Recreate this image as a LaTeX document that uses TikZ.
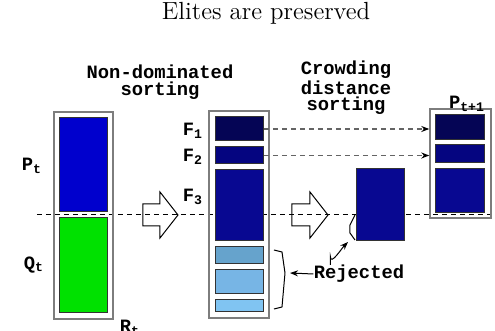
\documentclass[tikz,border=0pt]{standalone}
\usepackage{fontspec}
\usetikzlibrary{arrows.meta}
\newfontfamily\labfont{Liberation Mono}
\newcommand{\lab}[1]{{\labfont\bfseries #1}}
\definecolor{popblue}{RGB}{0,0,205}
\definecolor{popgreen}{RGB}{0,225,0}
\definecolor{frontA}{RGB}{5,5,85}
\definecolor{frontB}{RGB}{5,5,128}
\definecolor{frontC}{RGB}{8,8,145}
\definecolor{rejA}{RGB}{102,163,204}
\definecolor{rejB}{RGB}{119,181,229}
\definecolor{rejC}{RGB}{128,196,242}
\definecolor{boxgray}{RGB}{125,125,125}

\begin{document}
\begin{tikzpicture}[x=0.5pt, y=-0.5pt,
    outer/.style={draw=boxgray, line width=0.7pt, inner sep=0pt},
    front/.style={draw=black!80, line width=0.5pt, inner sep=0pt, minimum width=24pt},
    txt/.style={font=\fontsize{9.4}{8.3}\selectfont, align=center, inner sep=0pt},
    cutline/.style={dashed, dash pattern=on 2.5pt off 2pt, line width=0.5pt},
    copyarrow/.style={boxgray!80!black, dash pattern=on 2.5pt off 2pt, line width=0.6pt,
        -{Stealth[length=4pt, width=3pt, black]}},
    hollow/.style={draw=black, line width=0.5pt, line join=miter},
    reject/.style={line width=0.5pt, -{Stealth[length=4pt, width=3pt]}}]
    \useasboundingbox (0,0) rectangle (495,331);

    % the cut between kept and rejected members
    \coordinate (cutA) at (37,215);
    \coordinate (cutB) at (495,215);
    \draw[cutline] (cutA) -- (cutB);

    \node[font=\fontsize{12.4}{14}\selectfont] (title) at (266,13) {Elites are preserved};
    \node[txt] (nds) at (160,82) {\lab{Non-dominated}\\\lab{sorting}};
    \node[txt] (cds) at (346,88) {\lab{Crowding}\\\lab{distance}\\\lab{sorting}};

    % combined population R_t
    \node[outer, minimum width=29.5pt, minimum height=103.5pt] (rt) at (83.5,215.5) {};
    \node[front, fill=popblue, minimum height=47pt] (pt) at (84,165) {};
    \node[front, fill=popgreen, minimum height=47.5pt] (qt) at (84,265.5) {};
    \node[txt] (ptlab) at (32,166) {\lab{P\textsubscript{t}}};
    \node[txt] (qtlab) at (34,265) {\lab{Q\textsubscript{t}}};
    \node[txt] (rtlab) at (130,328) {\lab{R\textsubscript{t}}};

    % sorted fronts
    \node[outer, minimum width=30pt, minimum height=103.5pt] (mid) at (239,214.5) {};
    \node[front, fill=frontA, minimum height=12pt] (f1) at (239.5,129) {};
    \node[front, fill=frontB, minimum height=8.5pt] (f2) at (239.5,155.5) {};
    \node[front, fill=frontC, minimum height=35.5pt] (f3) at (239.5,205.5) {};
    \node[front, fill=rejA, minimum height=8.5pt] (r1) at (239.5,255.5) {};
    \node[front, fill=rejB, minimum height=12pt] (r2) at (239.5,282) {};
    \node[front, fill=rejC, minimum height=6pt] (r3) at (239.5,306) {};
    \node[txt] (f1lab) at (193,131) {\lab{F\textsubscript{1}}};
    \node[txt] (f2lab) at (193,157) {\lab{F\textsubscript{2}}};
    \node[txt] (f3lab) at (193,197) {\lab{F\textsubscript{3}}};

    % front 3 after crowding distance sorting
    \node[front, fill=frontC, minimum height=36pt] (f3cut) at (381,205) {};

    % new population P_{t+1}
    \node[outer, minimum width=30.5pt, minimum height=54.5pt] (pnext) at (460.5,163.5) {};
    \node[front, fill=frontA, minimum width=24.5pt, minimum height=12.5pt] (n1) at (460.5,127.5) {};
    \node[front, fill=frontB, minimum width=24.5pt, minimum height=9pt] (n2) at (460.5,154) {};
    \node[front, fill=frontC, minimum width=24.5pt, minimum height=22pt] (n3) at (460.5,191) {};
    \node[txt] (pnextlab) at (467,104) {\lab{P\textsubscript{t+1}}};

    \draw[copyarrow] (f1.east) -- (f1.east -| pnext.west);
    \draw[copyarrow] (f2.east) -- (f2.east -| pnext.west);

    % hollow arrows
    \draw[hollow] (143,204) -- (160,204) -- (160,192) -- (178,215) -- (160,238) -- (160,226) -- (143,226) -- cycle;
    \draw[hollow] (292,204) -- (310,204) -- (310,192) -- (328,215) -- (310,238) -- (310,226) -- (292,226) -- cycle;

    % rejected members
    \node[txt] (rej) at (359,274) {\lab{Rejected}};
    \draw[line width=0.5pt] (274,250) -- (282,252) -- (285,273) -- (282,307) -- (274,309);
    \draw[line width=0.5pt] (355,215) -- (350,225) -- (350,233) -- (355,240);
    \coordinate (bracetip) at (290,273);
    \coordinate (cuttip) at (348,242);
    \draw[reject] (rej.west) -- (bracetip);
    \draw[reject] (rej.north west) ++(17,0) -- ++(0,-8) to[out=-90, in=-135] (cuttip);
\end{tikzpicture}
\end{document}
